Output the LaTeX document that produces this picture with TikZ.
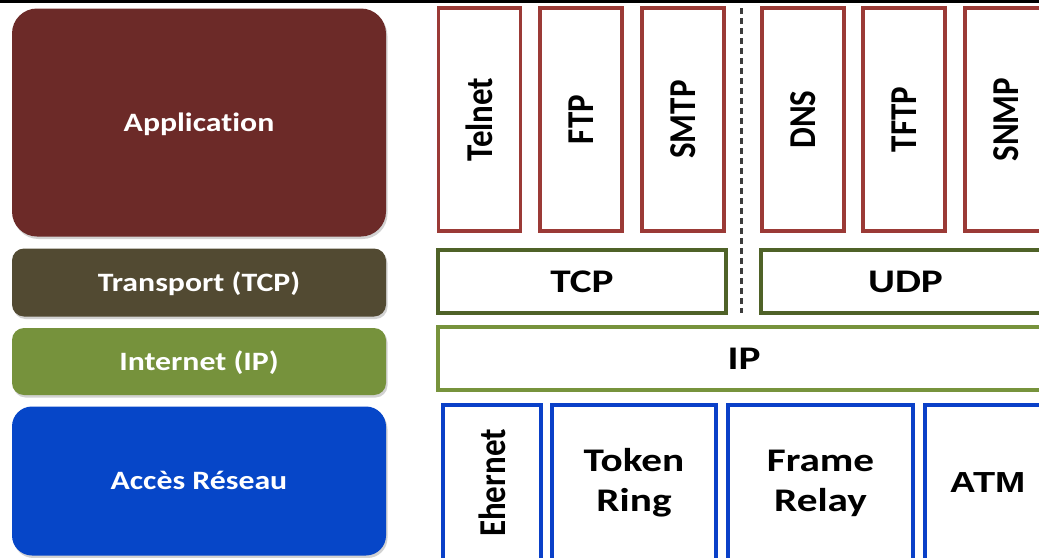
\documentclass[tikz,border=0pt]{standalone}
\usepackage{fontspec}
\usepackage{graphicx}
\setmainfont{Carlito}[Ligatures=NoCommon]
\newfontfamily\arialf{Liberation Sans}
\usetikzlibrary{shadows}
\definecolor{appfill}{RGB}{108,42,40}
\definecolor{trfill}{RGB}{82,74,50}
\definecolor{ipfill}{RGB}{118,146,60}
\definecolor{netfill}{RGB}{6,70,200}
\definecolor{appline}{RGB}{155,58,54}
\definecolor{trline}{RGB}{79,98,40}
\definecolor{ipline}{RGB}{119,147,60}
\definecolor{netline}{RGB}{10,64,200}
\definecolor{dashgray}{RGB}{60,60,60}
\newcommand\hxl[1]{\scalebox{1.2}[1]{#1}}
\newcommand\hxr[1]{\scalebox{1.25}[1]{#1}}
\newcommand\vrt[1]{\rotatebox{90}{\scalebox{1}[1.15]{#1}}}
\begin{document}
\begin{tikzpicture}[x=1pt,y=-1pt,
  layer/.style={rounded corners=#1, fill=appfill, draw=none, text=white,
    font=\fontsize{26.5}{30}\selectfont\bfseries, inner sep=0pt, outer sep=0pt,
    text height=17pt, text depth=0pt,
    drop shadow={opacity=0.35, shadow xshift=1.5pt, shadow yshift=-2.5pt}},
  proto/.style={draw=#1, line width=3.6pt, fill=white, inner sep=0pt, outer sep=0pt,
    font=\fontsize{33}{40}\selectfont\bfseries, align=center},
  appbox/.style={proto=appline, minimum width=82pt, minimum height=223pt},
  netbox/.style={proto=netline, minimum height=156pt},
  sep/.style={draw=dashgray, line width=2.3pt, dash pattern=on 6pt off 4pt},
]
\clip (0,0) rectangle (1039,557);
\fill[white] (0,0) rectangle (1039,557);
\fill[black] (0,0) rectangle (1039,2.5);

% left stack
\node[layer=25, fill=appfill, minimum width=374pt, minimum height=228pt] (app) at (199,122.5) {\hxl{Application}};
\node[layer=12, fill=trfill, minimum width=374pt, minimum height=68pt] (tr) at (199,282.5) {\hxl{Transport (TCP)}};
\node[layer=12, fill=ipfill, minimum width=374pt, minimum height=67pt] (inet) at (199,361.5) {\hxl{Internet (IP)}};
\node[layer=20, fill=netfill, minimum width=374pt, minimum height=149pt] (acc) at (199,481) {\hxl{Accès Réseau}};

% application protocols
\node[appbox] (telnet) at (479.5,119.5) {\vrt{Telnet}};
\node[appbox] (ftp) at (581,119.5) {\vrt{FTP}};
\node[appbox] (smtp) at (683,119.5) {\vrt{SMTP}};
\node[appbox] (dns) at (803,119.5) {\vrt{DNS}};
\node[appbox] (tftp) at (904,119.5) {\vrt{TFTP}};
\node[appbox] (snmp) at (1006,119.5) {\vrt{SNMP}};

% transport
\node[proto=trline, minimum width=288pt, minimum height=63pt] (tcp) at (582,281.5) {\hxr{TCP}};
\node[proto=trline, minimum width=289pt, minimum height=63pt] (udp) at (905.5,281.5) {\hxr{UDP}};

% internet
\node[proto=ipline, minimum width=612pt, minimum height=63pt] (ip) at (744,358.5) {\hxr{IP}};

% network access
\node[netbox, minimum width=98pt] (eth) at (492,483) {\vrt{Ehernet}};
\node[netbox, minimum width=164pt] (token) at (634,483) {\hxr{Token}\\\hxr{Ring}};
\node[netbox, minimum width=185pt] (frame) at (820.5,483) {\hxr{Frame}\\\hxr{Relay}};
\node[netbox, minimum width=125pt] (atm) at (987.5,483) {\fontsize{29}{34}\selectfont\arialf\bfseries\hxr{ATM}};

% separator between TCP and UDP families
\coordinate (septop) at (741.5,8);
\coordinate (sepbot) at (741.5,313);
\draw[sep] (septop) -- (sepbot);
\end{tikzpicture}
\end{document}
